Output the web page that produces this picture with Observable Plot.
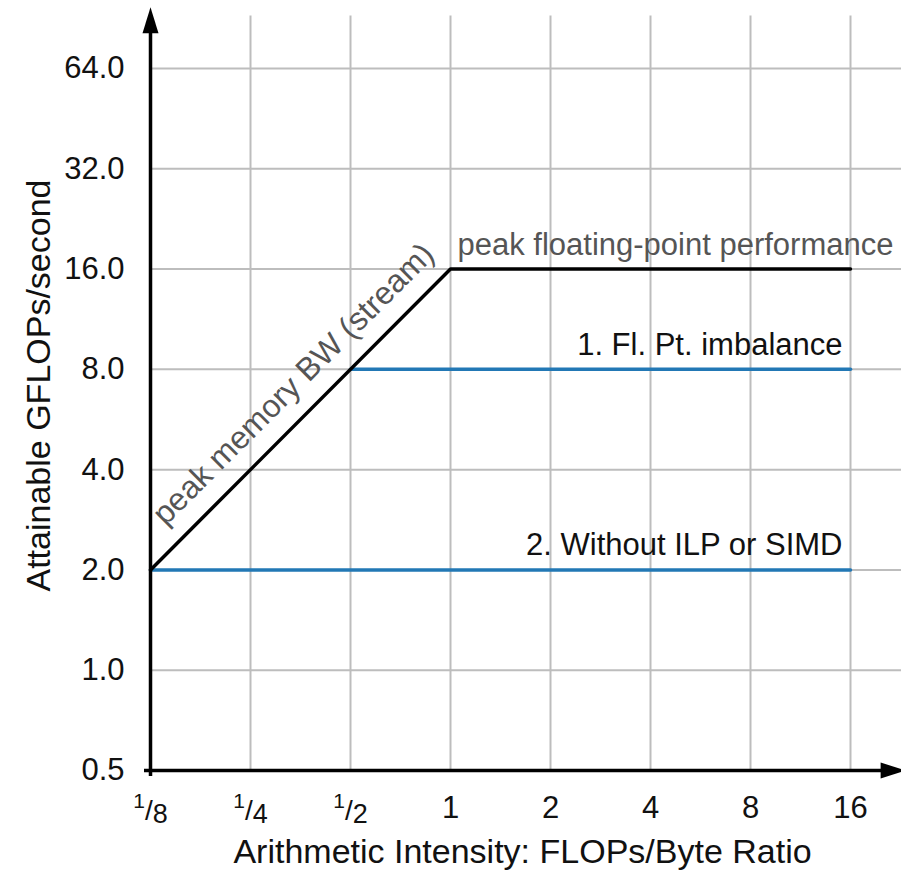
<!DOCTYPE html>
<html>
<head>
<meta charset="utf-8">
<script src="https://cdn.jsdelivr.net/npm/d3@7"></script>
<script src="https://cdn.jsdelivr.net/npm/@observablehq/plot@0.6"></script>
<style>
  html, body { margin: 0; padding: 0; background: #fff; }
</style>
</head>
<body>
<div id="chart"></div>
<script>
// ---- data ----
const xTicks = [1/8, 1/4, 1/2, 1, 2, 4, 8, 16];
const xTickLabels = ["1/8", "1/4", "1/2", "1", "2", "4", "8", "16"];
const yTicks = [0.5, 1, 2, 4, 8, 16, 32, 64];
const yTickLabels = ["0.5", "1.0", "2.0", "4.0", "8.0", "16.0", "32.0", "64.0"];

// roofline: peak memory BW then peak floating-point
const roofX = [0.125, 1, 16];
const roofY = [2, 16, 16];
// 1. Fl. Pt. imbalance ceiling
const imbalanceX = [0.5, 16];
const imbalanceY = [8, 8];
// 2. Without ILP or SIMD ceiling
const noIlpX = [0.125, 16];
const noIlpY = [2, 2];

const xTitle = "Arithmetic Intensity: FLOPs/Byte Ratio";
const yTitle = "Attainable GFLOPs/second";

// axis extents (beyond last tick, for arrows / grid)
const xMin = 0.125, yMin = 0.5;
const xEdge = 22.8;   // right arrow tip
const yArrowTop = 95; // top arrow tip
const gridTop = 92;   // top of vertical grid lines

const roof = roofX.map((x, i) => ({x, y: roofY[i]}));
const imbalance = imbalanceX.map((x, i) => ({x, y: imbalanceY[i]}));
const noIlp = noIlpX.map((x, i) => ({x, y: noIlpY[i]}));

const upArrow = {draw(ctx) { ctx.moveTo(0, -4); ctx.lineTo(-8, 22); ctx.lineTo(8, 22); ctx.closePath(); }};
const rightArrow = {draw(ctx) { ctx.moveTo(4, 0); ctx.lineTo(-21, -8); ctx.lineTo(-21, 8); ctx.closePath(); }};

const font = "'Liberation Sans', Arial, Helvetica, sans-serif";
const tickLabelMap = new Map(xTicks.map((t, i) => [t, xTickLabels[i]]));
const yLabelMap = new Map(yTicks.map((t, i) => [t, yTickLabels[i]]));

const chart = Plot.plot({
  width: 901,
  height: 882,
  marginLeft: 150,
  marginRight: 51,
  marginTop: 68,
  marginBottom: 112,
  style: {fontFamily: font, fontSize: "31px", background: "#fff", color: "#111"},
  x: {type: "log", base: 2, domain: [1/8, 16]},
  y: {type: "log", base: 2, domain: [0.5, 64]},
  marks: [
    // grid
    Plot.ruleX(xTicks.slice(1), {y1: yMin, y2: gridTop, stroke: "#bdbdbd", strokeWidth: 2}),
    Plot.ruleY(yTicks.slice(1), {x1: xMin, x2: xEdge, stroke: "#bdbdbd", strokeWidth: 2}),
    // axes
    Plot.axisX(xTicks, {tickSize: 0, tickPadding: 25, label: null, tickFormat: d => tickLabelMap.get(d), fontSize: 31, fill: "#111"}),
    Plot.axisY(yTicks, {tickSize: 0, tickPadding: 26, label: null, tickFormat: d => yLabelMap.get(d), fontSize: 31, fill: "#111"}),
    // ceilings
    Plot.line(noIlp, {x: "x", y: "y", stroke: "#2278b5", strokeWidth: 3.5}),
    Plot.line(imbalance, {x: "x", y: "y", stroke: "#2278b5", strokeWidth: 3.5}),
    Plot.line(roof, {x: "x", y: "y", stroke: "#000", strokeWidth: 3.5, strokeLinejoin: "miter"}),
    // axis lines with arrows
    Plot.ruleY([yMin], {x1: xMin, x2: xEdge, stroke: "#000", strokeWidth: 3.5, dx: -6}),
    Plot.ruleX([xMin], {y1: yMin, y2: yArrowTop, stroke: "#000", strokeWidth: 3.5, dy: 6}),
    Plot.dot([{x: xMin, y: yArrowTop}], {x: "x", y: "y", symbol: upArrow, fill: "#000", stroke: null}),
    Plot.dot([{x: xEdge, y: yMin}], {x: "x", y: "y", symbol: rightArrow, fill: "#000", stroke: null}),
    // annotations
    Plot.text([{x: 0.39, y: 6.24, t: "peak memory BW (stream)"}], {x: "x", y: "y", text: "t", rotate: -45, dx: -14, dy: -14, fill: "#555", fontSize: 32, textAnchor: "middle", lineAnchor: "bottom"}),
    Plot.text([{x: 1, y: 16, t: "peak floating-point performance"}], {x: "x", y: "y", text: "t", dx: 7, dy: -14, fill: "#555", fontSize: 31, textAnchor: "start", lineAnchor: "bottom"}),
    Plot.text([{x: 16, y: 8, t: "1. Fl. Pt. imbalance"}], {x: "x", y: "y", text: "t", dx: -8, dy: -14, fill: "#111", fontSize: 31, textAnchor: "end", lineAnchor: "bottom"}),
    Plot.text([{x: 16, y: 2, t: "2. Without ILP or SIMD"}], {x: "x", y: "y", text: "t", dx: -8, dy: -15, fill: "#111", fontSize: 31, textAnchor: "end", lineAnchor: "bottom"}),
    // axis titles
    Plot.text([xTitle], {text: d => d, frameAnchor: "bottom", textAnchor: "middle", dx: 22, dy: 92, fontSize: 34, fill: "#111", lineAnchor: "bottom"}),
    Plot.text([yTitle], {text: d => d, frameAnchor: "left", textAnchor: "middle", dx: -111, dy: -34, rotate: -90, fontSize: 34, fill: "#111"})
  ]
});

// render fractional tick labels as 1/8 style fractions
const svgNS = "http://www.w3.org/2000/svg";
chart.querySelectorAll('g[aria-label="x-axis tick label"] text').forEach(t => {
  const s = t.textContent;
  if (s.includes("/")) {
    const [num, den] = s.split("/");
    t.textContent = "";
    const parts = [[num, 21, -10], ["/", 28, 12], [den, 27, 3]];
    for (const [txt, fs, dy] of parts) {
      const ts = document.createElementNS(svgNS, "tspan");
      ts.setAttribute("font-size", fs);
      ts.setAttribute("dy", dy);
      ts.textContent = txt;
      t.appendChild(ts);
    }
  }
});

document.getElementById("chart").appendChild(chart);
</script>
</body>
</html>
